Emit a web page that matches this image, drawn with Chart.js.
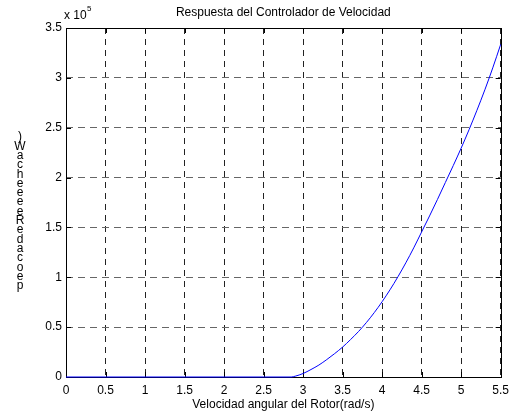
<!DOCTYPE html>
<html>
<head>
<meta charset="utf-8">
<script src="https://cdn.jsdelivr.net/npm/chart.js@4.4.1/dist/chart.umd.min.js"></script>
<style>
  html, body { margin: 0; padding: 0; background: #fff; }
  #wrap { width: 515px; height: 417px; }
</style>
</head>
<body>
<div id="wrap"><canvas id="c" width="515" height="417"></canvas></div>
<script>
// Rotor angular speed (rad/s) and controller output
const speed = [0, 0.5, 1, 1.5, 2, 2.5, 2.85, 2.9, 3.0, 3.1, 3.2, 3.3, 3.4, 3.5, 3.6, 3.7, 3.8, 3.9,
               4.0, 4.1, 4.2, 4.3, 4.4, 4.5, 4.6, 4.7, 4.8, 4.9, 5.0, 5.1, 5.2, 5.3, 5.4, 5.5];
const response = [0, 0, 0, 0, 0, 0, 0, 800, 3500, 7500, 12000, 17500, 23500, 30000, 37500, 45500, 54500, 64500,
                  75500, 87500, 100500, 114500, 129500, 145500, 161500, 178000, 195000, 212000, 229500, 248000,
                  267500, 288000, 310000, 333500];

// Axis tick values
const xTicks = [0, 0.5, 1, 1.5, 2, 2.5, 3, 3.5, 4, 4.5, 5, 5.5];
const yTicks = [0, 50000, 100000, 150000, 200000, 250000, 300000, 350000];
const yExponent = 5;

const titleText = 'Respuesta del Controlador de Velocidad';
const xLabelText = 'Velocidad angular del Rotor(rad/s)';
const yLabelChars = [')', 'W', 'a', 'c', 'h', 'e', 'e', 'e', 'e', 'R', 'e', 'd', 'a', 'c', 'o', 'e', 'p'];

const FONT = '"Liberation Sans", Arial, Helvetica, sans-serif';

// Frame, inward ticks and text labels around the axes
const framePlugin = {
  id: 'frame',
  beforeDatasetsDraw(chart) {
    const { ctx, chartArea: a, scales } = chart;
    ctx.save();
    ctx.strokeStyle = '#000';
    ctx.lineWidth = 1;
    ctx.setLineDash([]);
    ctx.strokeRect(Math.round(a.left) + 0.5, Math.round(a.top) + 0.5,
                   Math.round(a.right - a.left), Math.round(a.bottom - a.top));
    ctx.beginPath();
    xTicks.forEach(v => {
      const x = Math.round(scales.x.getPixelForValue(v)) + 0.5;
      ctx.moveTo(x, a.bottom); ctx.lineTo(x, a.bottom - 5);
      ctx.moveTo(x, a.top); ctx.lineTo(x, a.top + 5);
    });
    yTicks.forEach(v => {
      const y = Math.round(scales.y.getPixelForValue(v)) + 0.5;
      ctx.moveTo(a.left, y); ctx.lineTo(a.left + 5, y);
      ctx.moveTo(a.right, y); ctx.lineTo(a.right - 5, y);
    });
    ctx.stroke();
    ctx.restore();
  },
  afterDraw(chart) {
    const { ctx, chartArea: a } = chart;
    const cx = (a.left + a.right) / 2;
    ctx.save();
    ctx.fillStyle = '#000';
    ctx.textAlign = 'center';
    ctx.textBaseline = 'middle';
    ctx.font = '12px ' + FONT;
    ctx.fillText(titleText, cx, 13);
    ctx.fillText(xLabelText, cx, 405);

    // exponent marker above the y axis
    ctx.textAlign = 'left';
    ctx.fillText('x 10', a.left - 2, 16);
    ctx.font = '8px ' + FONT;
    ctx.fillText(String(yExponent), a.left + 21, 9);

    // stacked y-axis label
    ctx.font = '12px ' + FONT;
    ctx.textAlign = 'center';
    let y = 137;
    yLabelChars.forEach(ch => {
      ctx.fillText(ch, 20, y);
      y += 9.3;
    });
    ctx.restore();
  }
};

new Chart(document.getElementById('c'), {
  type: 'line',
  data: {
    datasets: [{
      data: speed.map((s, i) => ({ x: s, y: response[i] })),
      borderColor: '#0000ff',
      borderWidth: 1,
      pointRadius: 0,
      fill: false,
      cubicInterpolationMode: 'monotone',
      clip: false
    }]
  },
  options: {
    responsive: false,
    animation: false,
    devicePixelRatio: 1,
    layout: { padding: { left: 0, top: 28, right: 14, bottom: 0 } },
    plugins: { legend: { display: false }, tooltip: { enabled: false } },
    scales: {
      x: {
        type: 'linear',
        min: 0, max: 5.5,
        afterBuildTicks: s => { s.ticks = xTicks.map(v => ({ value: v })); },
        afterFit: s => { s.height = 40; },
        grid: { color: '#222', lineWidth: 1, drawTicks: false },
        border: { display: false, dash: [6, 5] },
        ticks: {
          color: '#000', padding: 6,
          font: { family: FONT, size: 12 },
          maxRotation: 0, autoSkip: false,
          callback: v => String(v)
        }
      },
      y: {
        type: 'linear',
        min: 0, max: 350000,
        afterBuildTicks: s => { s.ticks = yTicks.map(v => ({ value: v })); },
        afterFit: s => { s.width = 66; },
        grid: { color: '#666', lineWidth: 1, drawTicks: false },
        border: { display: false, dash: [7, 5] },
        ticks: {
          color: '#000', padding: 4,
          font: { family: FONT, size: 12 },
          autoSkip: false,
          callback: v => String(v / Math.pow(10, yExponent))
        }
      }
    }
  },
  plugins: [framePlugin]
});
</script>
</body>
</html>
